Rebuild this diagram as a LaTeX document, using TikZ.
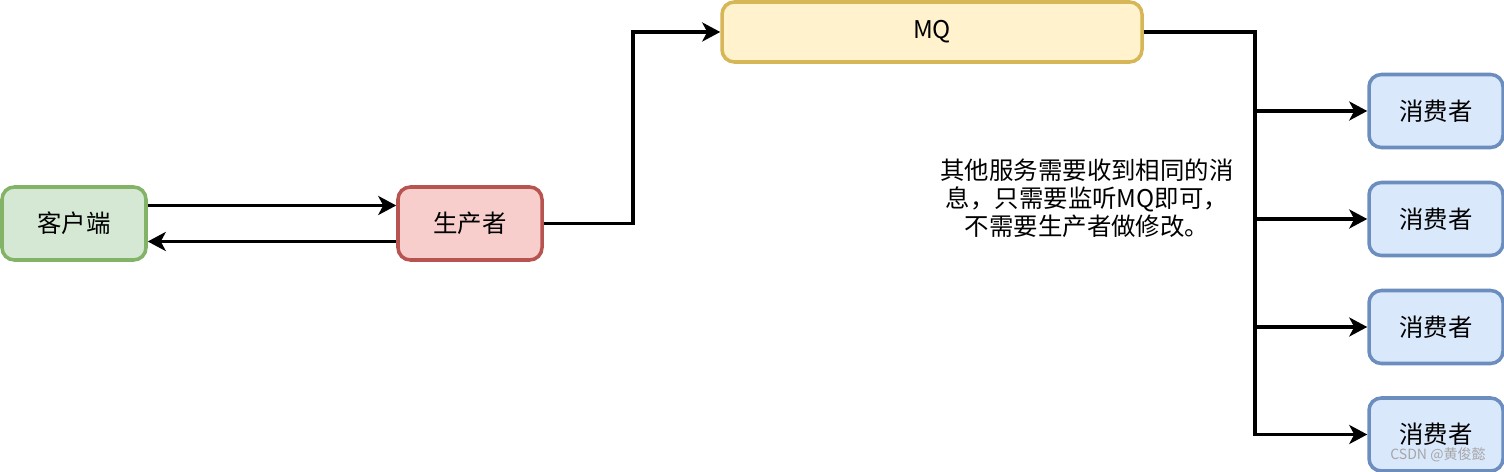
\documentclass[tikz,border=0pt]{standalone}
\usepackage{fontspec}
\usepackage{tikz}
\usetikzlibrary{positioning,calc,arrows.meta}
\newfontfamily\cjk{Noto Sans CJK SC}
\definecolor{clientgreen}{HTML}{D5E8D4}
\definecolor{clientline}{HTML}{82B366}
\definecolor{producerred}{HTML}{F8CECC}
\definecolor{producerline}{HTML}{B85450}
\definecolor{mqyellow}{HTML}{FFF2CC}
\definecolor{mqline}{HTML}{D6B656}
\definecolor{consumerblue}{HTML}{DAE8FC}
\definecolor{consumerline}{HTML}{6C8EBF}

\begin{document}
\begin{tikzpicture}[
	flowbox/.style={
		rectangle,
		rounded corners=7pt,
		draw=#1line,
		fill=#1box,
		line width=2pt,
		minimum width=2.88cm,
		minimum height=1.46cm,
		font=\cjk\fontsize{13.9}{16}\selectfont
	},
	conn/.style={
		-{Stealth[length=0.36cm,width=0.38cm,inset=0.1cm]},
		line width=2pt,
		color=black
	},
	notetext/.style={
		font=\cjk\fontsize{13.9}{16}\selectfont,
		align=center
	}
	]
	\colorlet{clientbox}{clientgreen}
	\colorlet{producerbox}{producerred}
	\colorlet{mqbox}{mqyellow}
	\colorlet{consumerbox}{consumerblue}
	\useasboundingbox (0,0) rectangle (30.08,9.44);
	
	% Client and producer
	\node[flowbox=client] (client) at (1.48,4.97) {客户端};
	\node[flowbox=producer] (producer) at (9.40,4.97) {生产者};
	
	% Message queue
	\node[flowbox=mq, minimum width=8.40cm, minimum height=1.20cm] (mq) at (18.64,8.80) {MQ};
	
	% Consumers
	\node[flowbox=consumer, minimum width=2.68cm] (c1) at (28.72,7.22) {消费者};
	\node[flowbox=consumer, minimum width=2.68cm] (c2) at (28.72,5.06) {消费者};
	\node[flowbox=consumer, minimum width=2.68cm] (c3) at (28.72,2.90) {消费者};
	\node[flowbox=consumer, minimum width=2.68cm] (c4) at (28.72,0.75) {消费者};
	
	% Request and response
	\draw[conn] ([yshift=0.36cm]client.east) -- ([yshift=0.36cm]producer.west);
	\draw[conn] ([yshift=-0.36cm]producer.west) -- ([yshift=-0.36cm]client.east);
	
	% Producer to MQ
	\draw[conn] (producer.east) -- ++(1.78,0) |- (mq.west);
	
	% MQ to consumers
	\coordinate (bus) at (25.10,8.80);
	\draw[conn] (mq.east) -- (bus) |- (c4.west);
	\foreach \i in {1,2,3}
		\draw[conn] (bus |- c\i.west) -- (c\i.west);
	
	% Note
	\node[notetext] (note) at (21.74,5.48) {其他服务需要收到相同的消\\息，只需要监听MQ即可，\\不需要生产者做修改。};
	
	% Watermark
	\node[font=\cjk\fontsize{8}{9}\selectfont, color=gray!70] (mark) at (28.76,0.34) {CSDN @黄俊懿};
	
\end{tikzpicture}
\end{document}
